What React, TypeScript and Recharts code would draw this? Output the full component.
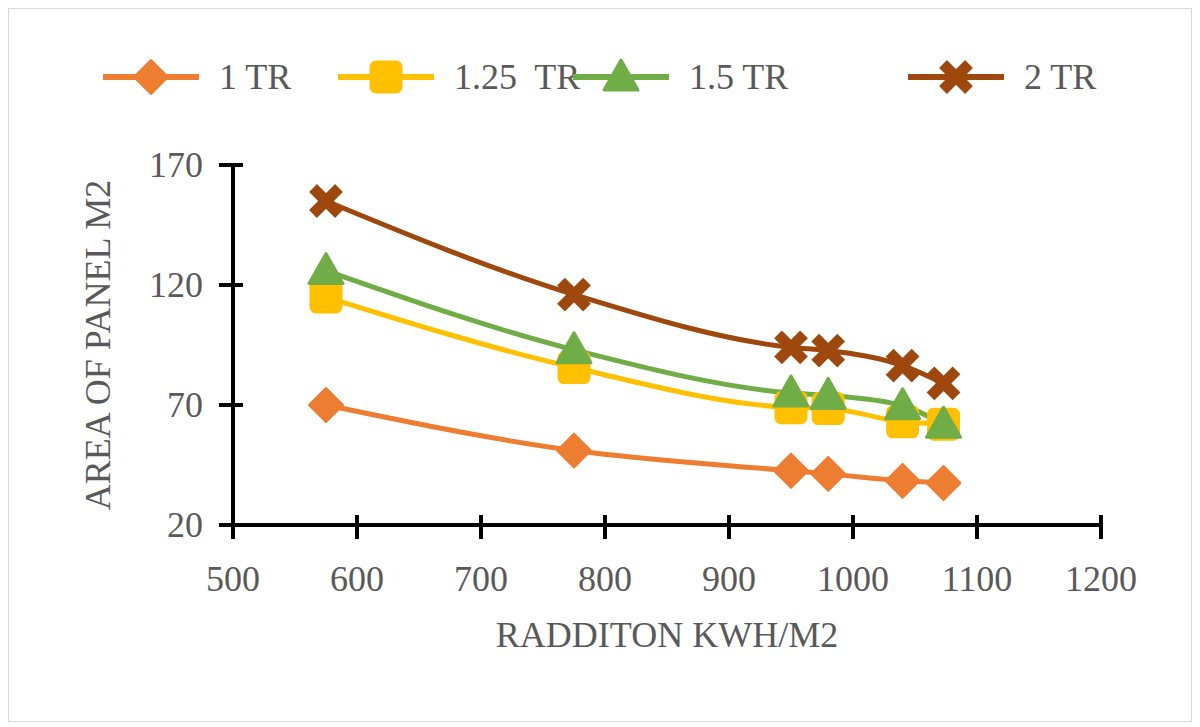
import React from 'react';
import { LineChart, Line, XAxis, YAxis } from 'recharts';

const xValues = [575, 775, 950, 980, 1040, 1073];
const tr1 = [70, 51, 42.6, 41.3, 38.4, 37.5];
const tr125 = [115, 85.6, 68.9, 68.5, 63, 62];
const tr15 = [126, 93, 75, 74, 69.7, 62];
const tr2 = [155, 116, 94, 92.7, 86.4, 79];
const xTicks = [500, 600, 700, 800, 900, 1000, 1100, 1200];
const yTicks = [20, 70, 120, 170];

const data = xValues.map((x, i) => ({ x, a: tr1[i], b: tr125[i], c: tr15[i], d: tr2[i] }));

const FONT = '"Liberation Serif", "Times New Roman", serif';
const GRAY = '#595959';

type Shape = 'diamond' | 'square' | 'triangle' | 'cross';
const series: { key: string; name: string; color: string; shape: Shape }[] = [
  { key: 'a', name: '1 TR', color: '#ED7D31', shape: 'diamond' },
  { key: 'b', name: '1.25  TR', color: '#FFC000', shape: 'square' },
  { key: 'c', name: '1.5 TR', color: '#70AD47', shape: 'triangle' },
  { key: 'd', name: '2 TR', color: '#9E480E', shape: 'cross' },
];

function marker(shape: Shape, cx: number, cy: number, color: string, k?: string) {
  const s = 17;
  if (shape === 'diamond')
    return <polygon key={k} points={`${cx},${cy - s} ${cx + s},${cy} ${cx},${cy + s} ${cx - s},${cy}`} fill={color} stroke={color} strokeWidth={2} strokeLinejoin="round" />;
  if (shape === 'square')
    return <rect key={k} x={cx - 15} y={cy - 15} width={30} height={30} rx={5} fill={color} stroke={color} strokeWidth={3} />;
  if (shape === 'triangle')
    return <polygon key={k} points={`${cx},${cy - 17} ${cx + 17},${cy + 13} ${cx - 17},${cy + 13}`} fill={color} stroke={color} strokeWidth={3} strokeLinejoin="round" />;
  const d = 13;
  return (
    <g key={k}>
      <line x1={cx - d} y1={cy - d} x2={cx + d} y2={cy + d} stroke={color} strokeWidth={11} />
      <line x1={cx - d} y1={cy + d} x2={cx + d} y2={cy - d} stroke={color} strokeWidth={11} />
    </g>
  );
}

const legendX = [100, 335, 570, 905];

const XTick = (p: any) => (
  <g>
    <line x1={p.x} x2={p.x} y1={p.y - 12} y2={p.y + 12} stroke="#000" strokeWidth={4} />
    <text x={p.x} y={p.y + 64} textAnchor="middle" fill={GRAY} fontSize={36} fontFamily={FONT}>{p.payload.value}</text>
  </g>
);
const YTick = (p: any) => (
  <g>
    <line x1={p.x - 12} x2={p.x + 12} y1={p.y} y2={p.y} stroke="#000" strokeWidth={4} />
    <text x={p.x - 28} y={p.y + 12} textAnchor="end" fill={GRAY} fontSize={36} fontFamily={FONT}>{p.payload.value}</text>
  </g>
);

export default function App() {
  return (
    <div style={{ position: 'relative', width: 1184, height: 714, boxSizing: 'border-box', border: '1px solid #d9d9d9', background: '#fff' }}>
      {series.map((s, i) => (
        <div key={s.key} style={{ position: 'absolute', left: legendX[i] - 8, top: 47, display: 'flex', alignItems: 'center', fontFamily: FONT, fontSize: 36, color: GRAY }}>
          <svg width={100} height={40}>
            <line x1={2} y1={20} x2={98} y2={20} stroke={s.color} strokeWidth={6} />
            {marker(s.shape, 50, 20, s.color)}
          </svg>
          <span style={{ marginLeft: 18, whiteSpace: 'pre' }}>{s.name}</span>
        </div>
      ))}
      <div style={{ position: 'absolute', left: 0, top: 0 }}>
        <LineChart width={1182} height={712} data={data} margin={{ top: 156, right: 90, bottom: 52, left: 0 }}>
          <XAxis
            dataKey="x"
            type="number"
            domain={[500, 1200]}
            ticks={xTicks}
            axisLine={{ stroke: '#000', strokeWidth: 4 }}
            tickLine={false}
            tickSize={0}
            tick={XTick}
            height={144}
            label={{ value: 'RADDITON KWH/M2', position: 'insideBottom', offset: 22, fill: GRAY, fontSize: 36, fontFamily: FONT }}
          />
          <YAxis
            type="number"
            domain={[20, 170]}
            ticks={yTicks}
            width={224}
            axisLine={{ stroke: '#000', strokeWidth: 4 }}
            tickLine={false}
            tickSize={0}
            tick={YTick}
            label={{ value: 'AREA   OF PANEL M2', angle: -90, position: 'insideLeft', offset: 88, fill: GRAY, fontSize: 36, fontFamily: FONT, style: { textAnchor: 'middle', whiteSpace: 'pre' } }}
          />
          {series.map((s) => (
            <Line
              key={s.key}
              dataKey={s.key}
              stroke={s.color}
              strokeWidth={5}
              type="monotone"
              isAnimationActive={false}
              dot={(p: any) => marker(s.shape, p.cx, p.cy, s.color, `${s.key}-${p.index}`)}
              activeDot={false}
            />
          ))}
        </LineChart>
      </div>
    </div>
  );
}
